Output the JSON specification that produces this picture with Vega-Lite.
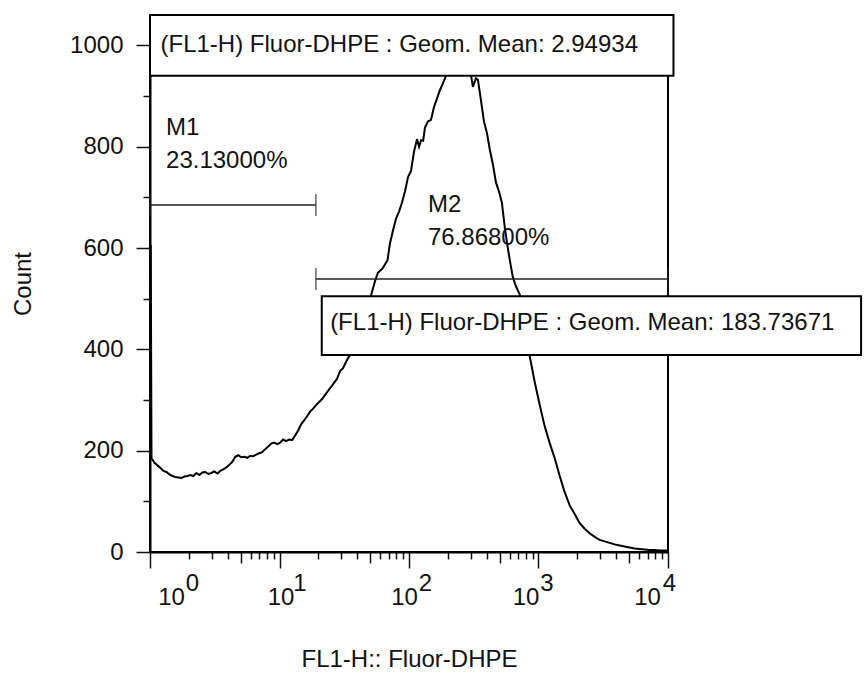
{
  "$schema": "https://vega.github.io/schema/vega-lite/v6.json",
  "width": 518,
  "height": 537,
  "autosize": "none",
  "padding": {"left": 150, "top": 15, "right": 196, "bottom": 125},
  "background": "white",
  "config": {
    "view": {"stroke": "black", "strokeWidth": 2},
    "font": "Liberation Sans",
    "axis": {
      "labelFont": "Liberation Sans", "titleFont": "Liberation Sans",
      "labelColor": "#111", "titleColor": "#111", "tickColor": "#111", "domainColor": "#111",
      "grid": false, "labelFontSize": 24, "titleFontSize": 24, "titleFontWeight": "normal"
    }
  },
  "datasets": {
    "hist": [
      {"fl": 1, "count": 605}, {"fl": 1.013, "count": 605}, {"fl": 1.027, "count": 185}, {"fl": 1.083, "count": 176}, {"fl": 1.142, "count": 171},
      {"fl": 1.205, "count": 166}, {"fl": 1.271, "count": 160}, {"fl": 1.34, "count": 158}, {"fl": 1.413, "count": 153},
      {"fl": 1.49, "count": 150}, {"fl": 1.572, "count": 148}, {"fl": 1.658, "count": 147}, {"fl": 1.748, "count": 146},
      {"fl": 1.844, "count": 149}, {"fl": 1.944, "count": 150}, {"fl": 2.051, "count": 152}, {"fl": 2.163, "count": 150},
      {"fl": 2.281, "count": 156}, {"fl": 2.406, "count": 152}, {"fl": 2.537, "count": 157}, {"fl": 2.676, "count": 158},
      {"fl": 2.822, "count": 154}, {"fl": 2.976, "count": 156}, {"fl": 3.139, "count": 159}, {"fl": 3.311, "count": 155},
      {"fl": 3.492, "count": 160}, {"fl": 3.682, "count": 163}, {"fl": 3.884, "count": 167}, {"fl": 4.096, "count": 172},
      {"fl": 4.32, "count": 178}, {"fl": 4.556, "count": 188}, {"fl": 4.805, "count": 191}, {"fl": 5.068, "count": 187},
      {"fl": 5.345, "count": 188}, {"fl": 5.637, "count": 186}, {"fl": 5.945, "count": 190}, {"fl": 6.27, "count": 189},
      {"fl": 6.613, "count": 192}, {"fl": 6.974, "count": 195}, {"fl": 7.355, "count": 197}, {"fl": 7.757, "count": 203},
      {"fl": 8.181, "count": 208}, {"fl": 8.628, "count": 214}, {"fl": 9.1, "count": 216}, {"fl": 9.597, "count": 213},
      {"fl": 10.12, "count": 216}, {"fl": 10.67, "count": 222}, {"fl": 11.26, "count": 219}, {"fl": 11.87, "count": 222},
      {"fl": 12.52, "count": 221}, {"fl": 13.21, "count": 230}, {"fl": 13.93, "count": 240}, {"fl": 14.69, "count": 252},
      {"fl": 15.49, "count": 260}, {"fl": 16.34, "count": 268}, {"fl": 17.23, "count": 277}, {"fl": 18.17, "count": 283},
      {"fl": 19.17, "count": 290}, {"fl": 20.21, "count": 296}, {"fl": 21.32, "count": 302}, {"fl": 22.48, "count": 310},
      {"fl": 23.71, "count": 318}, {"fl": 25.01, "count": 326}, {"fl": 26.38, "count": 334}, {"fl": 27.82, "count": 342},
      {"fl": 29.34, "count": 357}, {"fl": 30.94, "count": 363}, {"fl": 32.63, "count": 375}, {"fl": 34.42, "count": 386},
      {"fl": 36.3, "count": 392}, {"fl": 38.28, "count": 420}, {"fl": 41.92, "count": 445}, {"fl": 45.81, "count": 472},
      {"fl": 50.06, "count": 500}, {"fl": 54.7, "count": 535}, {"fl": 57.5, "count": 551}, {"fl": 62.6, "count": 560},
      {"fl": 68.2, "count": 576}, {"fl": 71.39, "count": 610}, {"fl": 75.3, "count": 635}, {"fl": 79.4, "count": 658},
      {"fl": 83.8, "count": 672}, {"fl": 88.3, "count": 690}, {"fl": 93.17, "count": 712}, {"fl": 98.3, "count": 740},
      {"fl": 103.6, "count": 752}, {"fl": 109.3, "count": 790}, {"fl": 115.3, "count": 815}, {"fl": 119.6, "count": 800},
      {"fl": 124.1, "count": 813}, {"fl": 128.7, "count": 812}, {"fl": 132.8, "count": 838}, {"fl": 140.1, "count": 850},
      {"fl": 147.8, "count": 853}, {"fl": 155.8, "count": 878}, {"fl": 164.4, "count": 895}, {"fl": 173.4, "count": 912},
      {"fl": 182.8, "count": 925}, {"fl": 192.8, "count": 940}, {"fl": 207, "count": 960}, {"fl": 226.2, "count": 975},
      {"fl": 247.2, "count": 985}, {"fl": 270.2, "count": 975}, {"fl": 295.2, "count": 955}, {"fl": 311.4, "count": 918},
      {"fl": 328.5, "count": 935}, {"fl": 340.6, "count": 932}, {"fl": 359.4, "count": 892}, {"fl": 379, "count": 850},
      {"fl": 399.8, "count": 827}, {"fl": 421, "count": 794}, {"fl": 444.5, "count": 765}, {"fl": 468.8, "count": 730},
      {"fl": 494.4, "count": 712}, {"fl": 521.5, "count": 690}, {"fl": 549.5, "count": 640}, {"fl": 579.9, "count": 600},
      {"fl": 600.4, "count": 576}, {"fl": 633.3, "count": 543}, {"fl": 668, "count": 525}, {"fl": 717.1, "count": 508},
      {"fl": 783.4, "count": 455}, {"fl": 856.2, "count": 386}, {"fl": 935.6, "count": 335},
      {"fl": 1022, "count": 290}, {"fl": 1117, "count": 248}, {"fl": 1221, "count": 215}, {"fl": 1334, "count": 185},
      {"fl": 1458, "count": 150}, {"fl": 1593, "count": 118}, {"fl": 1741, "count": 92}, {"fl": 1903, "count": 75},
      {"fl": 2080, "count": 57}, {"fl": 2273, "count": 46}, {"fl": 2483, "count": 37}, {"fl": 2714, "count": 30},
      {"fl": 2966, "count": 24}, {"fl": 3241, "count": 21}, {"fl": 3541, "count": 18}, {"fl": 3870, "count": 15},
      {"fl": 4229, "count": 13}, {"fl": 4621, "count": 11}, {"fl": 5050, "count": 9}, {"fl": 5518, "count": 7},
      {"fl": 6029, "count": 6}, {"fl": 6589, "count": 5}, {"fl": 7200, "count": 4}, {"fl": 7870, "count": 4},
      {"fl": 8600, "count": 3}, {"fl": 9398, "count": 3}, {"fl": 10000, "count": 3}
    ],
    "boxes": [
      {"name": "M1 mean", "x1": 1, "x2": 11020, "y1": 1060, "y2": 940},
      {"name": "M2 mean", "x1": 21.2, "x2": 309700, "y1": 505, "y2": 389}
    ],
    "texts": [
      {"label": "(FL1-H) Fluor-DHPE : Geom. Mean: 2.94934", "x": 1.205, "y": 1000},
      {"label": "(FL1-H) Fluor-DHPE : Geom. Mean: 183.73671", "x": 24.6, "y": 452},
      {"label": "M1", "x": 1.33, "y": 836},
      {"label": "23.13000%", "x": 1.33, "y": 772},
      {"label": "M2", "x": 140, "y": 685},
      {"label": "76.86800%", "x": 140, "y": 620}
    ],
    "gates": [
      {"gate": "M1", "x1": 1, "x2": 19.1, "y": 685},
      {"gate": "M2", "x1": 19.1, "x2": 10000, "y": 539}
    ],
    "caps": [
      {"gate": "M1", "x": 1, "y": 685},
      {"gate": "M1", "x": 19.1, "y": 685},
      {"gate": "M2", "x": 19.1, "y": 539},
      {"gate": "M2", "x": 10000, "y": 539}
    ]
  },
  "layer": [
    {
      "data": {"name": "hist"},
      "mark": {"type": "line", "color": "black", "strokeWidth": 2},
      "encoding": {
        "x": {
          "field": "fl", "type": "quantitative",
          "scale": {"type": "log", "domain": [1, 10000], "nice": false},
          "axis": {
            "orient": "bottom",
            "values": [1,2,3,4,5,6,7,8,9,10,20,30,40,50,60,70,80,90,100,200,300,400,500,600,700,800,900,1000,2000,3000,4000,5000,6000,7000,8000,9000,10000],
            "title": "FL1-H:: Fluor-DHPE",
            "titlePadding": 38,
            "labelExpr": "indexof([1,10,100,1000,10000], datum.value) >= 0 ? '10' : ''",
            "tickSize": {"condition": [
              {"test": "indexof([1,10,100,1000,10000], datum.value) >= 0", "value": 16},
              {"test": "indexof([5,50,500,5000], datum.value) >= 0", "value": 11}
            ], "value": 7},
            "labelPadding": 17,
            "labelOverlap": false, "labelFlush": false, "labelBound": false,
            "labelOffset": {"condition": [
              {"test": "datum.value == 1", "value": 21},
              {"test": "datum.value == 10", "value": 1},
              {"test": "datum.value == 100", "value": -5},
              {"test": "datum.value == 1000", "value": -13},
              {"test": "datum.value == 10000", "value": -21}
            ], "value": 0},
            "domainWidth": 2, "domainColor": "black", "tickWidth": 1.5
          }
        },
        "y": {
          "field": "count", "type": "quantitative",
          "scale": {"domain": [0, 1060], "nice": false},
          "axis": {
            "orient": "left",
            "values": [0,50,100,150,200,250,300,350,400,450,500,550,600,650,700,750,800,850,900,950,1000,1050],
            "title": "Count",
            "titlePadding": 34,
            "labelExpr": "datum.value % 200 == 0 ? '' + datum.value : ''",
            "tickSize": {"condition": [{"test": "datum.value % 200 == 0", "value": 14}], "value": 7},
            "labelPadding": 13,
            "labelOverlap": false, "labelFlush": false,
            "domainWidth": 2, "domainColor": "black", "tickWidth": 1.5
          }
        }
      }
    },
    {
      "data": {"name": "gates"},
      "mark": {"type": "rule", "color": "#222", "strokeWidth": 1.5},
      "encoding": {
        "x": {"field": "x1", "type": "quantitative", "scale": {"type": "log", "domain": [1, 10000], "nice": false}, "axis": null},
        "x2": {"field": "x2"},
        "y": {"field": "y", "type": "quantitative", "scale": {"domain": [0, 1060], "nice": false}}
      }
    },
    {
      "data": {"name": "caps"},
      "mark": {"type": "tick", "orient": "vertical", "size": 22, "thickness": 1.5, "color": "#222"},
      "encoding": {
        "x": {"field": "x", "type": "quantitative", "scale": {"type": "log", "domain": [1, 10000], "nice": false}, "axis": null},
        "y": {"field": "y", "type": "quantitative", "scale": {"domain": [0, 1060], "nice": false}}
      }
    },
    {
      "data": {"name": "boxes"},
      "mark": {"type": "rect", "fill": "white", "stroke": "black", "strokeWidth": 2},
      "encoding": {
        "x": {
          "field": "x1", "type": "quantitative",
          "scale": {"type": "log", "domain": [1, 10000], "nice": false},
          "axis": {
            "orient": "bottom",
            "values": [1, 10, 100, 1000, 10000],
            "title": null,
            "domain": false,
            "tickSize": 16, "tickOpacity": 0,
            "labelPadding": 3,
            "labelExpr": "'' + round(log(datum.value) / LN10)",
            "labelOverlap": false, "labelFlush": false, "labelBound": false,
            "labelOffset": {"condition": [
              {"test": "datum.value == 1", "value": 42},
              {"test": "datum.value == 10", "value": 20},
              {"test": "datum.value == 100", "value": 16},
              {"test": "datum.value == 1000", "value": 8},
              {"test": "datum.value == 10000", "value": 1}
            ], "value": 0}
          }
        },
        "x2": {"field": "x2"},
        "y": {"field": "y1", "type": "quantitative", "scale": {"domain": [0, 1060], "nice": false}},
        "y2": {"field": "y2"}
      }
    },
    {
      "data": {"name": "texts"},
      "mark": {"type": "text", "align": "left", "baseline": "middle", "fontSize": 24, "color": "#111", "font": "Liberation Sans"},
      "encoding": {
        "x": {"field": "x", "type": "quantitative", "scale": {"type": "log", "domain": [1, 10000], "nice": false}, "axis": null},
        "y": {"field": "y", "type": "quantitative", "scale": {"domain": [0, 1060], "nice": false}},
        "text": {"field": "label"}
      }
    }
  ],
  "resolve": {"axis": {"x": "independent", "y": "shared"}}
}
